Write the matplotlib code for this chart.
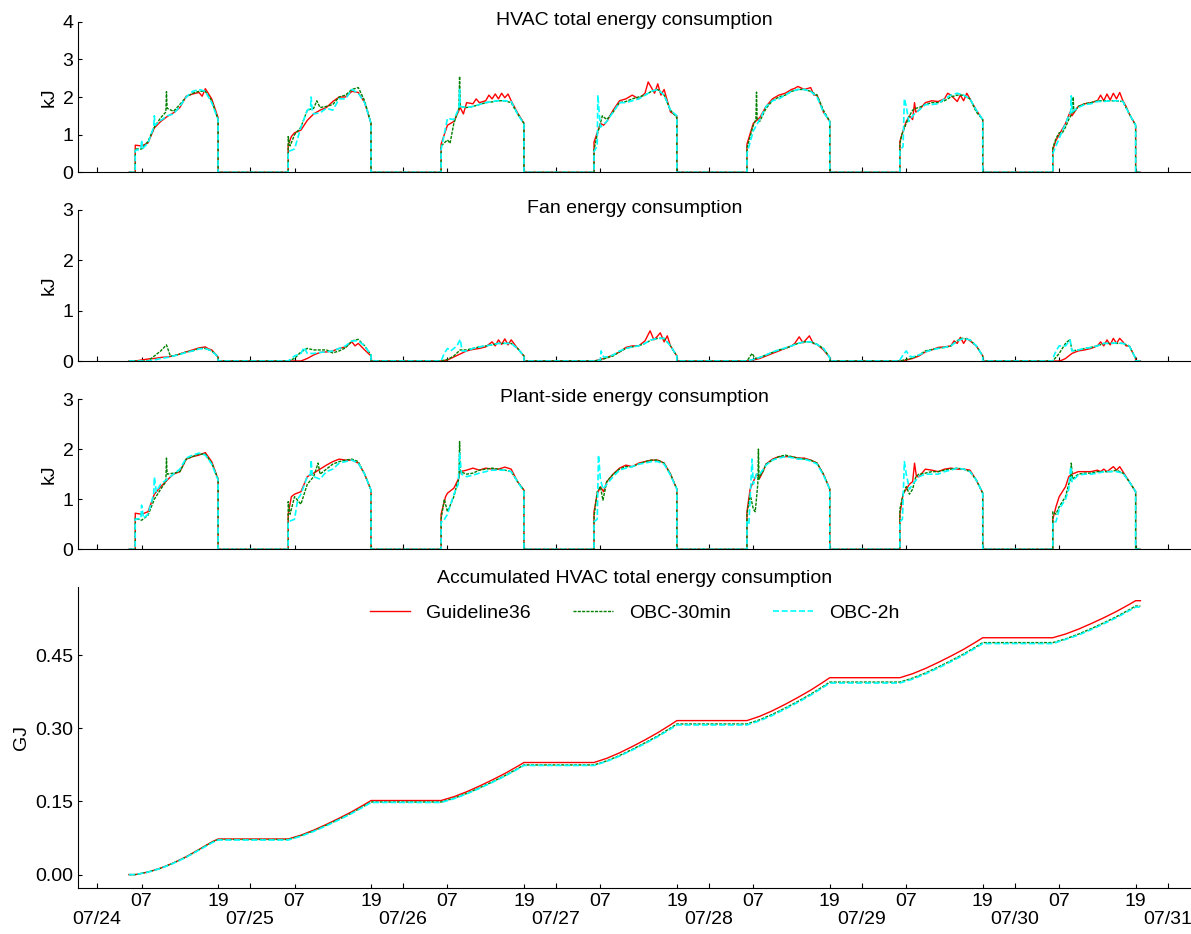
import datetime as dt
import matplotlib
matplotlib.use("Agg")
import matplotlib.pyplot as plt
import matplotlib.dates as mdates
from matplotlib.ticker import MultipleLocator, FormatStrFormatter

plt.rcParams['font.family'] = ['Liberation Sans', 'DejaVu Sans']
plt.rcParams['font.size'] = 14

# ---------------- data ----------------
START = dt.datetime(2017, 7, 24)          # first day shown (07/24)
SERIES = ['Guideline36', 'OBC-30min', 'OBC-2h']
COLORS = ['#ff0000', '#008000', '#00ffff']
DATA_START_HOUR = 5.0                     # 07/24 05:00
DATA_END_HOUR = 6 * 24 + 19.75            # 07/30 19:45

TITLES = ['HVAC total energy consumption', 'Fan energy consumption',
          'Plant-side energy consumption', 'Accumulated HVAC total energy consumption']

# (hour of day, kJ) for each day 07/24 ... 07/30
TOTAL_G36 = [
 [(6,0.72),(7,0.70),(8,0.78),(9,1.18),(10,1.35),(11,1.48),(12,1.58),(13,1.72),(14,2.02),(15,2.08),(16,2.12),(16.5,2.02),(17,2.22),(18,1.95),(19,1.45)],
 [(6,0.72),(6.5,0.95),(7,1.05),(8,1.12),(9,1.38),(10,1.55),(11,1.65),(12,1.72),(13,1.88),(14,2.0),(15,2.0),(16,2.15),(17,2.12),(18,1.85),(19,1.3)],
 [(6,0.75),(7,1.25),(8,1.35),(9,1.72),(9.5,1.55),(10,1.85),(11,1.82),(11.5,1.95),(12,1.85),(13,1.9),(13.5,2.05),(14,1.95),(14.5,2.08),(15,1.95),(15.5,2.1),(16,1.98),(16.5,2.08),(17,1.9),(18,1.58),(19,1.3)],
 [(6,0.8),(7,1.3),(7.5,1.25),(8,1.35),(9,1.65),(10,1.9),(11,1.95),(12,2.05),(13,1.95),(14,2.1),(14.5,2.4),(15,2.25),(15.5,2.1),(16,2.35),(16.5,2.05),(17,2.2),(18,1.6),(19,1.5)],
 [(6,0.75),(7,1.3),(8,1.45),(9,1.75),(10,1.95),(11,2.05),(12,2.1),(13,2.2),(13.5,2.23),(14,2.28),(15,2.2),(16,2.25),(16.5,2.05),(17,2.05),(18,1.6),(19,1.35)],
 [(6,0.82),(6.5,1.1),(7,1.35),(7.5,1.5),(8,1.4),(8.3,1.85),(8.5,1.6),(9,1.65),(10,1.85),(11,1.9),(12,1.88),(13,1.95),(13.5,2.1),(14,2.05),(15,1.88),(15.5,2.05),(16,1.9),(16.5,2.1),(17,1.95),(18,1.65),(19,1.4)],
 [(6,0.6),(6.5,0.85),(7,1.0),(8,1.3),(8.7,1.6),(9,1.5),(10,1.75),(11,1.82),(12,1.85),(13,1.9),(13.5,2.05),(14,1.9),(14.5,2.08),(15,1.92),(15.5,2.1),(16,1.95),(16.5,2.12),(17,1.9),(17.5,1.75),(18,1.55),(19,1.25)],
]
TOTAL_OBC30 = [
 [(6,0.62),(7,0.62),(8,0.82),(9,1.2),(10,1.45),(10.8,1.6),(10.9,2.14),(11,1.7),(12,1.62),(13,1.8),(14,2.0),(15,2.1),(16,2.15),(17,2.15),(18,1.9),(19,1.4)],
 [(6,0.95),(6.3,0.7),(7,1.0),(8,1.2),(9,1.65),(10,1.7),(10.5,1.9),(11,1.72),(12,1.75),(13,1.8),(14,2.0),(15,2.05),(16,2.2),(17,2.25),(18,1.9),(19,1.3)],
 [(6,0.7),(7,0.86),(7.4,0.77),(8,1.3),(8.8,1.7),(8.9,2.55),(9.0,1.75),(10,1.72),(11,1.75),(12,1.8),(13,1.85),(14,1.87),(15,1.9),(16,1.9),(17,1.85),(18,1.55),(19,1.3)],
 [(6,0.6),(6.5,1.0),(7,1.3),(7.3,1.5),(8,1.4),(9,1.6),(10,1.85),(11,1.88),(12,1.95),(13,2.0),(14,2.05),(15,2.15),(16,2.2),(17,2.05),(18,1.65),(19,1.45)],
 [(6,0.65),(7,1.25),(7.4,1.4),(7.5,2.13),(7.6,1.4),(8,1.35),(9,1.7),(10,1.9),(11,2.0),(12,2.05),(13,2.15),(14,2.2),(15,2.2),(16,2.15),(17,2.05),(18,1.65),(19,1.35)],
 [(6,0.75),(6.3,1.0),(7,1.3),(7.5,1.5),(8,1.65),(8.5,1.7),(9,1.72),(10,1.8),(11,1.85),(12,1.85),(13,1.9),(14,2.0),(15,2.05),(16,2.05),(17,1.95),(18,1.6),(19,1.4)],
 [(6,0.65),(6.5,0.9),(7,1.05),(7.5,1.05),(8,1.2),(8.5,1.4),(9.1,1.6),(9.2,2.0),(9.3,1.6),(10,1.75),(11,1.82),(12,1.85),(13,1.9),(14,1.9),(15,1.9),(16,1.9),(17,1.88),(18,1.55),(19,1.25)],
]
TOTAL_OBC2H = [
 [(6,0.58),(6.9,0.62),(7,0.85),(7.1,0.62),(8,0.78),(8.9,1.2),(9,1.5),(9.1,1.25),(10,1.38),(11,1.5),(12,1.55),(13,1.75),(14,2.0),(15,2.15),(16,2.2),(17,2.15),(18,1.85),(19,1.4)],
 [(6,0.55),(7,0.62),(8,1.2),(9,1.65),(9.5,1.7),(9.6,2.0),(9.8,1.6),(10,1.55),(11,1.58),(12,1.7),(13,1.65),(14,1.95),(15,1.95),(16,2.2),(17,2.1),(18,1.85),(19,1.3)],
 [(6,0.6),(7,1.43),(8,1.4),(8.8,1.7),(8.9,2.2),(9.0,1.75),(10,1.72),(11,1.75),(12,1.8),(13,1.85),(14,1.88),(15,1.9),(16,1.9),(17,1.88),(18,1.55),(19,1.28)],
 [(6,0.55),(6.5,0.7),(6.6,2.05),(6.8,1.6),(7,1.2),(8,1.35),(9,1.6),(10,1.85),(11,1.85),(12,1.9),(13,1.95),(14,2.05),(15,2.15),(16,2.2),(17,2.05),(18,1.65),(19,1.5)],
 [(6,0.5),(7,1.1),(8,1.4),(9,1.75),(10,1.9),(11,1.95),(12,2.05),(13,2.15),(14,2.2),(15,2.2),(16,2.15),(17,2.0),(18,1.6),(19,1.35)],
 [(6,0.6),(6.5,0.68),(6.7,1.96),(7,1.75),(7.4,1.35),(8,1.5),(9,1.65),(10,1.8),(11,1.8),(12,1.82),(13,1.95),(14,2.05),(15,2.1),(16,2.05),(17,1.95),(18,1.65),(19,1.4)],
 [(6,0.5),(7,0.9),(8,1.3),(8.5,1.5),(8.8,1.6),(8.9,2.03),(9.0,1.6),(10,1.72),(11,1.8),(12,1.82),(13,1.88),(14,1.88),(15,1.9),(16,1.9),(17,1.88),(18,1.55),(19,1.25)],
]

FAN_G36 = [
 [(6,0.0),(7,0.02),(8,0.04),(9,0.05),(10,0.07),(11,0.08),(12,0.1),(13,0.14),(14,0.18),(15,0.22),(16,0.26),(17,0.28),(17.5,0.24),(18,0.22),(19,0.08)],
 [(6,0.0),(8,0.0),(9,0.05),(10,0.12),(11,0.17),(12,0.18),(13,0.2),(14,0.25),(15,0.28),(16,0.38),(16.5,0.3),(17,0.35),(18,0.22),(19,0.1)],
 [(6,0.0),(7,0.02),(8,0.08),(9,0.14),(10,0.2),(11,0.23),(12,0.25),(13,0.28),(14,0.38),(14.5,0.3),(15,0.42),(15.5,0.33),(16,0.44),(16.5,0.32),(17,0.42),(18,0.25),(19,0.1)],
 [(6,0.0),(7,0.03),(8,0.07),(9,0.12),(10,0.18),(11,0.27),(12,0.3),(13,0.3),(14,0.4),(14.8,0.6),(15.4,0.42),(16,0.5),(16.4,0.56),(17,0.38),(17.5,0.5),(18,0.3),(19,0.1)],
 [(6,0.0),(7,0.02),(8,0.05),(9,0.1),(10,0.15),(11,0.2),(12,0.25),(13,0.3),(13.5,0.35),(14.2,0.48),(14.8,0.36),(15.8,0.5),(16.4,0.35),(17,0.33),(18,0.22),(19,0.07)],
 [(6,0.0),(7,0.02),(8,0.05),(9,0.1),(10,0.18),(11,0.22),(12,0.27),(13,0.28),(14,0.3),(14.5,0.4),(15,0.35),(15.5,0.47),(16,0.35),(16.5,0.45),(17,0.4),(18,0.3),(19,0.1)],
 [(6,0.0),(7,0.0),(7.5,0.02),(8,0.05),(8.5,0.1),(9,0.15),(10,0.2),(11,0.22),(12,0.25),(13,0.3),(13.5,0.38),(14,0.3),(14.5,0.42),(15,0.32),(15.5,0.45),(16,0.35),(16.5,0.45),(17,0.38),(17.5,0.3),(18,0.3),(19,0.05)],
]
FAN_OBC30 = [
 [(6,0.0),(8,0.0),(9,0.1),(10,0.2),(10.9,0.32),(11.5,0.1),(12,0.1),(13,0.14),(14,0.18),(15,0.2),(16,0.25),(17,0.25),(18,0.2),(19,0.08)],
 [(6,0.0),(7,0.05),(8,0.18),(9,0.25),(10,0.22),(11,0.22),(12,0.22),(13,0.16),(14,0.2),(15,0.26),(16,0.4),(17,0.43),(18,0.3),(19,0.12)],
 [(6,0.0),(7,0.03),(8,0.1),(9,0.22),(10,0.22),(11,0.25),(12,0.28),(13,0.3),(14,0.32),(15,0.35),(16,0.35),(17,0.35),(18,0.25),(19,0.1)],
 [(6,0.0),(7,0.02),(8,0.06),(9,0.1),(10,0.18),(11,0.25),(12,0.28),(13,0.3),(14,0.35),(15,0.42),(16,0.45),(17,0.45),(18,0.3),(19,0.1)],
 [(6,0.0),(6.8,0.15),(7.3,0.05),(8,0.07),(9,0.12),(10,0.17),(11,0.22),(12,0.25),(13,0.3),(14,0.35),(15,0.38),(16,0.38),(17,0.33),(18,0.25),(19,0.07)],
 [(6,0.0),(7,0.03),(8,0.06),(9,0.12),(10,0.2),(11,0.23),(12,0.25),(13,0.27),(14,0.3),(15,0.4),(15.5,0.45),(16,0.45),(17,0.42),(18,0.3),(19,0.1)],
 [(6,0.0),(7,0.15),(7.5,0.25),(8,0.35),(8.7,0.43),(9,0.2),(10,0.22),(11,0.25),(12,0.27),(13,0.3),(14,0.35),(15,0.35),(16,0.35),(17,0.35),(18,0.3),(19,0.05)],
]
FAN_OBC2H = [
 [(6,0.0),(8,0.0),(9,0.02),(10,0.05),(11,0.07),(12,0.1),(13,0.13),(14,0.17),(15,0.2),(16,0.24),(17,0.25),(18,0.2),(19,0.08)],
 [(6,0.0),(7,0.1),(8,0.15),(8.5,0.27),(9,0.15),(10,0.15),(11,0.17),(12,0.18),(13,0.2),(14,0.25),(15,0.3),(16,0.4),(17,0.4),(18,0.3),(19,0.12)],
 [(6,0.0),(6.5,0.15),(7,0.25),(7.5,0.2),(8.5,0.3),(9,0.43),(9.3,0.2),(10,0.2),(11,0.25),(12,0.28),(13,0.3),(14,0.32),(15,0.35),(16,0.35),(17,0.35),(18,0.25),(19,0.1)],
 [(6,0.0),(7,0.02),(7.1,0.2),(7.5,0.08),(8,0.08),(9,0.12),(10,0.2),(11,0.25),(12,0.28),(13,0.3),(14,0.35),(15,0.42),(16,0.45),(17,0.45),(18,0.3),(19,0.1)],
 [(6,0.0),(7,0.03),(8,0.07),(9,0.12),(10,0.18),(11,0.22),(12,0.26),(13,0.3),(14,0.35),(15,0.38),(16,0.38),(17,0.33),(18,0.25),(19,0.07)],
 [(6,0.02),(6.5,0.12),(7,0.2),(7.5,0.1),(8,0.08),(9,0.12),(10,0.18),(11,0.22),(12,0.25),(13,0.27),(14,0.3),(15,0.4),(16,0.45),(17,0.42),(18,0.3),(19,0.1)],
 [(6,0.05),(6.5,0.2),(7,0.3),(7.5,0.3),(8,0.3),(8.7,0.42),(9,0.2),(10,0.22),(11,0.25),(12,0.27),(13,0.3),(14,0.35),(15,0.35),(16,0.36),(17,0.35),(18,0.3),(19,0.05)],
]

PLANT_G36 = [
 [(6,0.72),(7,0.7),(8,0.75),(9,1.1),(10,1.25),(11,1.38),(12,1.5),(13,1.55),(14,1.8),(15,1.85),(16,1.88),(17,1.93),(18,1.75),(19,1.4)],
 [(6,0.7),(6.5,1.05),(7,1.1),(8,1.15),(9,1.45),(10,1.52),(11,1.6),(12,1.68),(13,1.75),(14,1.8),(15,1.78),(16,1.78),(17,1.72),(18,1.5),(19,1.18)],
 [(6,0.7),(6.7,1.05),(7,1.12),(8,1.22),(8.7,1.4),(9,1.55),(10,1.58),(11,1.62),(12,1.58),(13,1.62),(14,1.6),(15,1.6),(16,1.64),(17,1.6),(18,1.35),(19,1.18)],
 [(6,0.75),(6.5,1.1),(7,1.25),(7.5,1.15),(8,1.35),(9,1.5),(10,1.62),(11,1.68),(12,1.65),(13,1.72),(14,1.75),(15,1.78),(16,1.78),(17,1.72),(18,1.5),(19,1.2)],
 [(6,0.75),(6.5,1.2),(7,1.35),(7.5,1.5),(8,1.42),(8.5,1.55),(9,1.7),(10,1.8),(11,1.85),(12,1.85),(13,1.85),(14,1.82),(15,1.82),(16,1.78),(17,1.72),(18,1.5),(19,1.2)],
 [(6,0.7),(6.5,1.1),(7,1.2),(7.5,1.3),(8,1.35),(8.3,1.72),(8.6,1.45),(9,1.45),(10,1.6),(11,1.58),(12,1.55),(13,1.6),(14,1.62),(15,1.6),(16,1.6),(17,1.58),(18,1.38),(19,1.12)],
 [(6,0.6),(6.5,0.85),(7,1.05),(7.5,1.15),(8,1.25),(8.5,1.45),(9,1.5),(10,1.55),(11,1.55),(12,1.55),(13,1.58),(13.5,1.55),(14,1.6),(14.5,1.55),(15,1.6),(15.5,1.65),(16,1.58),(16.5,1.65),(17,1.55),(18,1.35),(19,1.15)],
]
PLANT_OBC30 = [
 [(6,0.62),(7,0.58),(8,0.68),(9,1.0),(10,1.2),(10.8,1.35),(10.9,1.82),(11,1.5),(12,1.52),(13,1.55),(14,1.8),(15,1.85),(16,1.9),(17,1.9),(18,1.72),(19,1.4)],
 [(6,0.95),(6.3,0.7),(7,1.05),(8,0.9),(9,1.3),(10,1.45),(10.7,1.72),(11,1.5),(12,1.6),(13,1.7),(14,1.75),(15,1.78),(16,1.8),(17,1.75),(18,1.5),(19,1.18)],
 [(6,0.6),(6.5,1.0),(7,0.75),(7.5,0.9),(8,1.05),(8.5,1.3),(8.8,1.4),(8.9,2.15),(9.0,1.55),(10,1.5),(11,1.52),(12,1.58),(13,1.6),(14,1.62),(15,1.6),(16,1.58),(17,1.55),(18,1.35),(19,1.18)],
 [(6,0.65),(6.5,1.15),(7,1.25),(7.4,0.98),(8,1.35),(9,1.5),(10,1.6),(11,1.65),(12,1.65),(13,1.7),(14,1.75),(15,1.78),(16,1.78),(17,1.72),(18,1.5),(19,1.2)],
 [(6,0.7),(6.5,1.1),(7,0.8),(7.3,0.75),(7.7,1.3),(7.8,2.0),(7.9,1.4),(8,1.45),(8.5,1.55),(9,1.7),(10,1.78),(11,1.85),(12,1.88),(13,1.85),(14,1.82),(15,1.8),(16,1.78),(17,1.72),(18,1.5),(19,1.2)],
 [(6,0.8),(6.5,1.1),(7,1.25),(7.5,1.1),(8,1.2),(8.5,1.45),(9,1.5),(10,1.52),(11,1.55),(12,1.55),(13,1.58),(14,1.6),(15,1.62),(16,1.6),(17,1.55),(18,1.38),(19,1.12)],
 [(6,0.75),(6.5,0.7),(7,0.85),(7.5,0.95),(8,1.05),(8.5,1.3),(8.8,1.4),(8.9,1.72),(9.1,1.4),(10,1.5),(11,1.52),(12,1.52),(13,1.55),(14,1.55),(15,1.55),(16,1.58),(17,1.52),(18,1.35),(19,1.15)],
]
PLANT_OBC2H = [
 [(6,0.6),(6.9,0.62),(7,0.88),(7.3,0.62),(8,0.7),(8.9,1.1),(9,1.44),(9.3,1.15),(10,1.3),(11,1.4),(12,1.5),(13,1.6),(14,1.82),(15,1.88),(16,1.92),(17,1.88),(18,1.7),(19,1.38)],
 [(6,0.55),(7,0.6),(7.5,1.0),(8,1.1),(9,1.45),(9.5,1.5),(9.6,1.78),(9.8,1.45),(10,1.45),(11,1.4),(12,1.55),(13,1.6),(14,1.72),(15,1.75),(16,1.78),(17,1.72),(18,1.5),(19,1.18)],
 [(6,0.55),(6.3,0.55),(7,0.7),(7.5,0.9),(8,1.1),(8.7,1.3),(8.9,1.92),(9.2,1.5),(10,1.45),(11,1.48),(12,1.52),(13,1.55),(14,1.58),(15,1.58),(16,1.58),(17,1.55),(18,1.35),(19,1.15)],
 [(6,0.55),(6.5,0.6),(6.7,1.88),(7,1.4),(7.4,1.2),(8,1.3),(9,1.45),(10,1.58),(11,1.62),(12,1.65),(13,1.7),(14,1.72),(15,1.75),(16,1.75),(17,1.7),(18,1.48),(19,1.2)],
 [(6,0.55),(6.3,0.5),(6.8,1.8),(7,1.3),(7.5,1.5),(8,1.5),(9,1.68),(10,1.78),(11,1.82),(12,1.85),(13,1.83),(14,1.8),(15,1.8),(16,1.76),(17,1.7),(18,1.48),(19,1.2)],
 [(6,0.55),(6.4,0.6),(6.7,1.75),(7,1.5),(7.5,1.2),(8,1.3),(9,1.45),(10,1.5),(11,1.5),(12,1.5),(13,1.55),(14,1.58),(15,1.62),(16,1.6),(17,1.55),(18,1.38),(19,1.12)],
 [(6,0.55),(6.5,0.55),(7,0.8),(7.5,0.9),(8,1.0),(8.5,1.2),(8.8,1.65),(9,1.35),(10,1.48),(11,1.5),(12,1.5),(13,1.52),(14,1.55),(15,1.55),(16,1.55),(17,1.52),(18,1.35),(19,1.15)],
]

# accumulated HVAC total energy (GJ) at these hours of each day
ACC_HOURS = [6, 8, 10, 12, 14, 16, 18, 19]
ACC_G36 = [
 [0.0, 0.0052, 0.0133, 0.0240, 0.0367, 0.0516, 0.0669, 0.073],
 [0.073, 0.0809, 0.0912, 0.1030, 0.1157, 0.1291, 0.1441, 0.152],
 [0.152, 0.1598, 0.1699, 0.1816, 0.1941, 0.2074, 0.2222, 0.230],
 [0.230, 0.2386, 0.2498, 0.2627, 0.2764, 0.2911, 0.3074, 0.316],
 [0.316, 0.3248, 0.3362, 0.3494, 0.3635, 0.3785, 0.3952, 0.404],
 [0.404, 0.4122, 0.4229, 0.4352, 0.4483, 0.4622, 0.4778, 0.486],
 [0.486, 0.4936, 0.5035, 0.5149, 0.5270, 0.5400, 0.5544, 0.562],
]
ACC_OBC30 = [
 [0.0, 0.0051, 0.0131, 0.0236, 0.0362, 0.0509, 0.0660, 0.072],
 [0.072, 0.0797, 0.0897, 0.1013, 0.1136, 0.1267, 0.1413, 0.149],
 [0.149, 0.1566, 0.1665, 0.1779, 0.1900, 0.2030, 0.2174, 0.225],
 [0.225, 0.2334, 0.2443, 0.2569, 0.2704, 0.2846, 0.3006, 0.309],
 [0.309, 0.3176, 0.3288, 0.3417, 0.3554, 0.3701, 0.3864, 0.395],
 [0.395, 0.4031, 0.4136, 0.4258, 0.4387, 0.4525, 0.4679, 0.476],
 [0.476, 0.4835, 0.4933, 0.5045, 0.5165, 0.5293, 0.5435, 0.551],
]
ACC_OBC2H = [
 [0.0, 0.0050, 0.0129, 0.0233, 0.0357, 0.0502, 0.0650, 0.071],
 [0.071, 0.0787, 0.0887, 0.1003, 0.1126, 0.1257, 0.1403, 0.148],
 [0.148, 0.1556, 0.1655, 0.1769, 0.1890, 0.2020, 0.2164, 0.224],
 [0.224, 0.2323, 0.2431, 0.2555, 0.2688, 0.2829, 0.2987, 0.307],
 [0.307, 0.3156, 0.3268, 0.3397, 0.3534, 0.3681, 0.3844, 0.393],
 [0.393, 0.4011, 0.4116, 0.4238, 0.4367, 0.4505, 0.4659, 0.474],
 [0.474, 0.4825, 0.4913, 0.5025, 0.5145, 0.5273, 0.5415, 0.549],
]

PANELS = [
    (TOTAL_G36, TOTAL_OBC30, TOTAL_OBC2H),
    (FAN_G36, FAN_OBC30, FAN_OBC2H),
    (PLANT_G36, PLANT_OBC30, PLANT_OBC2H),
]
YMAX = [4, 3, 3]
ACC = (ACC_G36, ACC_OBC30, ACC_OBC2H)


def T(hours):
    return START + dt.timedelta(hours=hours)


def build_daily(days):
    t = [T(DATA_START_HOUR)]
    v = [0.0]
    for d, pts in enumerate(days):
        base = d * 24
        t.append(T(base + pts[0][0])); v.append(0.0)
        for h, val in pts:
            t.append(T(base + h)); v.append(val)
        t.append(T(base + pts[-1][0])); v.append(0.0)
    t.append(T(DATA_END_HOUR)); v.append(0.0)
    return t, v


def build_acc(days):
    t = [T(DATA_START_HOUR)]
    v = [days[0][0]]
    for d, vals in enumerate(days):
        for h, val in zip(ACC_HOURS, vals):
            t.append(T(d * 24 + h)); v.append(val)
    t.append(T(DATA_END_HOUR)); v.append(days[-1][-1])
    return t, v


STYLES = [
    dict(color=COLORS[0], lw=1.0, ls='-'),
    dict(color=COLORS[1], lw=1.0, ls=(0, (2.2, 0.9))),
    dict(color=COLORS[2], lw=1.2, ls=(0, (3.6, 1.6))),
]

# ---------------- figure ----------------
fig = plt.figure(figsize=(11.91, 9.34), dpi=100)
L = 78.3 / 1191
W = 1 - L
boxes = [(21.7, 172.3), (210, 361), (399, 549.3), (587, 888.3)]
axes = []
for i, (top, bot) in enumerate(boxes):
    kw = {} if i == 0 else dict(sharex=axes[0])
    ax = fig.add_axes([L, 1 - bot / 934, W, (bot - top) / 934], **kw)
    axes.append(ax)

for i, ax in enumerate(axes[:3]):
    for s in range(3):
        t, v = build_daily(PANELS[i][s])
        ax.plot(t, v, **STYLES[s])
    ax.set_ylim(0, YMAX[i])
    ax.yaxis.set_major_locator(MultipleLocator(1))
    ax.set_ylabel('kJ', labelpad=3.5)

ax4 = axes[3]
lines = []
for s in range(3):
    t, v = build_acc(ACC[s])
    ln, = ax4.plot(t, v, label=SERIES[s], **STYLES[s])
    lines.append(ln)
ax4.yaxis.set_major_locator(MultipleLocator(0.15))
ax4.yaxis.set_major_formatter(FormatStrFormatter('%.2f'))
ax4.set_ylabel('GJ', labelpad=3.6)
ax4.legend(handles=lines, loc='upper center', ncol=3, frameon=False,
           handlelength=2.07, handletextpad=0.83, columnspacing=2.15)

for i, ax in enumerate(axes):
    ax.set_title(TITLES[i], fontsize=14, y=1.0, pad=-2.3 if i < 3 else 3.0)
    ax.spines['top'].set_visible(False)
    ax.spines['right'].set_visible(False)
    ax.tick_params(axis='y', direction='in', length=3, width=0.8, pad=3.5)
    ax.tick_params(axis='x', which='major', direction='in', length=3.5, width=0.8, pad=16)
    ax.tick_params(axis='x', which='minor', direction='in', length=3, width=0.8, pad=3.5)

axes[0].xaxis.set_major_locator(mdates.DayLocator())
axes[0].xaxis.set_major_formatter(mdates.DateFormatter('%m/%d'))
axes[0].xaxis.set_minor_locator(mdates.HourLocator(byhour=[7, 19]))
axes[0].xaxis.set_minor_formatter(mdates.DateFormatter('%H'))
for ax in axes[:3]:
    ax.tick_params(axis='x', which='both', labelbottom=False)

fig.savefig('out.png', dpi=100)
